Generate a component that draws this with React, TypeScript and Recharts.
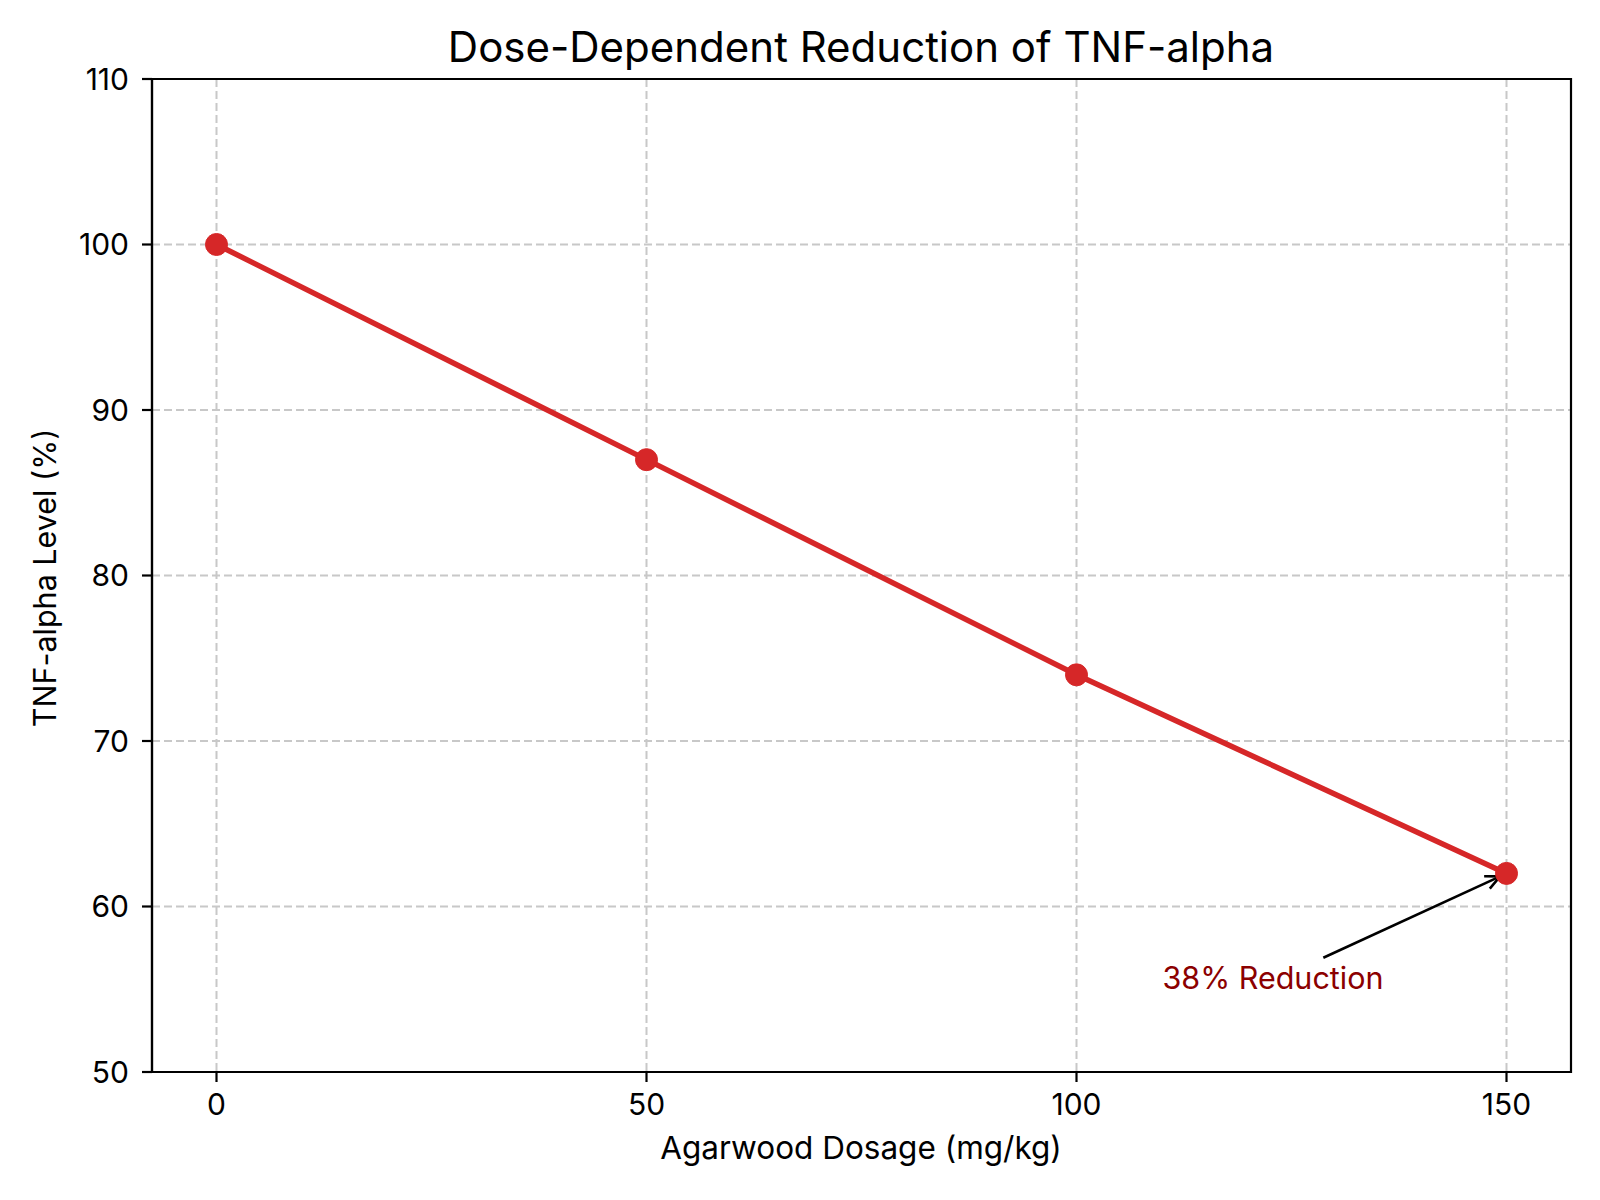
import React from 'react';
import { LineChart, Line, XAxis, YAxis, CartesianGrid, ReferenceArea, ReferenceLine, ReferenceDot } from 'recharts';

const doses = [0, 50, 100, 150];
const tnfLevels = [100, 87, 74, 62];
const xTicks = [0, 50, 100, 150];
const yTicks = [50, 60, 70, 80, 90, 100, 110];
const xDomain = [-7.5, 157.5];
const yDomain = [50, 110];
const annotationText = '38% Reduction';
const annotationTextPos = { x: 110, y: 55 };
const arrowTail = { x: 128.7, y: 56.9 };
const arrowTip = { x: 150, y: 62 };
const titleText = 'Dose-Dependent Reduction of TNF-alpha';
const xLabelText = 'Agarwood Dosage (mg/kg)';
const yLabelText = 'TNF-alpha Level (%)';

const data = doses.map((d, i) => ({ dose: d, level: tnfLevels[i] }));

const FONT = 'Inter';
const RED = '#d62728';

const ArrowShape = (props: any) => {
  const { x1, y1, x2, y2 } = props;
  const dx = x2 - x1;
  const dy = y2 - y1;
  const len = Math.sqrt(dx * dx + dy * dy);
  const ux = dx / len;
  const uy = dy / len;
  const shrink = 7;
  const tx = x2 - ux * shrink;
  const ty = y2 - uy * shrink;
  const headLen = 16;
  const ang = (25 * Math.PI) / 180;
  const bx = -ux;
  const by = -uy;
  const a1x = tx + headLen * (bx * Math.cos(ang) - by * Math.sin(ang));
  const a1y = ty + headLen * (bx * Math.sin(ang) + by * Math.cos(ang));
  const a2x = tx + headLen * (bx * Math.cos(-ang) - by * Math.sin(-ang));
  const a2y = ty + headLen * (bx * Math.sin(-ang) + by * Math.cos(-ang));
  return (
    <g>
      <line x1={x1} y1={y1} x2={tx} y2={ty} stroke="#000" strokeWidth={2.6} />
      <polyline points={`${a1x},${a1y} ${tx},${ty} ${a2x},${a2y}`} fill="none" stroke="#000" strokeWidth={2.6} />
    </g>
  );
};

const AnnotationText = (props: any) => (
  <text x={props.cx} y={props.cy} fill="#8b0000" fontSize={30.5} fontFamily={FONT} textAnchor="start">
    {annotationText}
  </text>
);

export default function App() {
  return (
    <div style={{ position: 'absolute', left: 0, top: 0, width: 1600, height: 1200, background: '#fff' }}>
      <LineChart width={1600} height={1200} data={data} margin={{ top: 79, right: 29, bottom: 68, left: 52 }}>
        <CartesianGrid stroke="#c8c8c8" strokeWidth={2} strokeDasharray="8 4" />
        <ReferenceArea x1={xDomain[0]} x2={xDomain[1]} y1={yDomain[0]} y2={yDomain[1]} fill="none" fillOpacity={0} stroke="#000" strokeWidth={2.2} ifOverflow="visible" />
        <XAxis
          type="number"
          dataKey="dose"
          domain={xDomain}
          ticks={xTicks}
          height={60}
          tickSize={10}
          tickMargin={12}
          axisLine={{ stroke: '#000', strokeWidth: 2.2 }}
          tickLine={{ stroke: '#000', strokeWidth: 2.2 }}
          tick={{ fill: '#000', fontSize: 30, fontFamily: FONT }}
          allowDataOverflow
        />
        <YAxis
          type="number"
          domain={yDomain}
          ticks={yTicks}
          width={100}
          tickSize={10}
          tickMargin={13}
          axisLine={{ stroke: '#000', strokeWidth: 2.2 }}
          tickLine={{ stroke: '#000', strokeWidth: 2.2 }}
          tick={{ fill: '#000', fontSize: 30, fontFamily: FONT }}
          allowDataOverflow
        />
        <Line
          type="linear"
          dataKey="level"
          stroke={RED}
          strokeWidth={5.5}
          dot={{ r: 11, fill: RED, stroke: RED, strokeWidth: 1 }}
          activeDot={false}
          isAnimationActive={false}
        />
        <ReferenceLine segment={[arrowTail, arrowTip]} shape={ArrowShape} ifOverflow="visible" />
        <ReferenceDot x={annotationTextPos.x} y={annotationTextPos.y} r={0} shape={AnnotationText} ifOverflow="visible" />
      </LineChart>
      <svg width={1600} height={1200} style={{ position: 'absolute', left: 0, top: 0, pointerEvents: 'none' }}>
        <text x={861} y={62} textAnchor="middle" fontSize={42} fontFamily={FONT} fill="#000">{titleText}</text>
        <text x={861} y={1159} textAnchor="middle" fontSize={31.5} fontFamily={FONT} fill="#000">{xLabelText}</text>
        <text x={56} y={578} textAnchor="middle" fontSize={30.5} fontFamily={FONT} fill="#000" transform="rotate(-90 56 578)">{yLabelText}</text>
      </svg>
    </div>
  );
}
